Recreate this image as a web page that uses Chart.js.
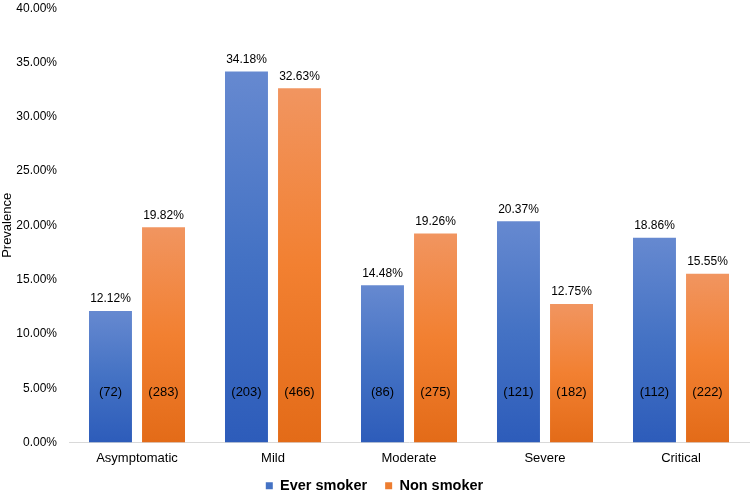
<!DOCTYPE html>
<html>
<head>
<meta charset="utf-8">
<script src="https://cdn.jsdelivr.net/npm/chart.js@4/dist/chart.umd.min.js"></script>
<style>
  html, body { margin: 0; padding: 0; background: #fff; overflow: hidden; }
  #wrap { width: 753px; height: 514px; margin-top: -11px; }
</style>
</head>
<body>
<div id="wrap"><canvas id="grafica"></canvas></div>
<script>
const categorias = ['Asymptomatic', 'Mild', 'Moderate', 'Severe', 'Critical'];
const everSmoker = [12.12, 34.18, 14.48, 20.37, 18.86];
const nonSmoker = [19.82, 32.63, 19.26, 12.75, 15.55];
const everCounts = [72, 203, 86, 121, 112];
const nonCounts = [283, 466, 275, 182, 222];
const yTicks = [0, 5, 10, 15, 20, 25, 30, 35, 40];

const FONT = "'Liberation Sans', Arial, sans-serif";

// gradiente por barra: claro arriba, oscuro abajo
function barGradient(top, mid, bottom) {
  return function (c) {
    const chart = c.chart;
    if (!chart.chartArea) return mid;
    const y = chart.scales.y;
    const g = chart.ctx.createLinearGradient(0, y.getPixelForValue(c.raw), 0, y.getPixelForValue(0));
    g.addColorStop(0, top);
    g.addColorStop(0.5, mid);
    g.addColorStop(1, bottom);
    return g;
  };
}

const etiquetas = {
  id: 'etiquetas',
  afterDatasetsDraw(chart) {
    const ctx = chart.ctx;
    const counts = [everCounts, nonCounts];
    ctx.save();
    ctx.fillStyle = '#000';
    ctx.textAlign = 'center';
    chart.data.datasets.forEach((ds, i) => {
      const meta = chart.getDatasetMeta(i);
      meta.data.forEach((bar, j) => {
        ctx.font = '12px ' + FONT;
        ctx.textBaseline = 'middle';
        ctx.fillText(ds.data[j].toFixed(2) + '%', bar.x, bar.y - 12);
        ctx.font = '13px ' + FONT;
        ctx.fillText('(' + counts[i][j] + ')', bar.x, chart.chartArea.bottom - 50);
      });
    });
    ctx.restore();
  }
};

new Chart(document.getElementById('grafica'), {
  type: 'bar',
  data: {
    labels: categorias,
    datasets: [
      {
        label: 'Ever smoker',
        data: everSmoker,
        backgroundColor: barGradient('#6689d0', '#4472c4', '#2d5cba'),
        categoryPercentage: 0.78,
        barPercentage: 0.81
      },
      {
        label: 'Non smoker',
        data: nonSmoker,
        backgroundColor: barGradient('#f19560', '#f28031', '#e36b18'),
        categoryPercentage: 0.78,
        barPercentage: 0.81
      }
    ]
  },
  options: {
    responsive: true,
    maintainAspectRatio: false,
    animation: false,
    layout: { padding: { left: 0, right: 4, top: 0, bottom: 0 } },
    plugins: {
      legend: {
        position: 'bottom',
        labels: {
          color: '#000',
          font: { family: FONT, size: 14.5, weight: 'bold' },
          boxWidth: 7,
          boxHeight: 7,
          padding: 10,
          generateLabels(chart) {
            const cols = ['#4472c4', '#ed7d31'];
            return chart.data.datasets.map((ds, i) => ({
              // espacio extra tras el primer elemento
              text: i === 0 ? ds.label + '\u00a0\u00a0' : ds.label,
              fillStyle: cols[i],
              strokeStyle: cols[i],
              lineWidth: 0,
              datasetIndex: i,
              fontColor: '#000'
            }));
          }
        }
      },
      tooltip: { enabled: false }
    },
    scales: {
      x: {
        grid: { display: false, drawTicks: false },
        border: { color: '#d9d9d9', width: 1 },
        ticks: { color: '#000', font: { family: FONT, size: 13 }, padding: 8 },
        afterFit(axis) { axis.height = 26; }
      },
      y: {
        min: 0,
        max: 40,
        afterBuildTicks(axis) { axis.ticks = yTicks.map(v => ({ value: v })); },
        afterFit(axis) { axis.width = 69; },
        grid: { display: false, drawTicks: false },
        border: { display: false },
        title: {
          display: true,
          text: 'Prevalence',
          color: '#000',
          font: { family: FONT, size: 13 },
          padding: { top: 0, bottom: 0 }
        },
        ticks: {
          color: '#000',
          font: { family: FONT, size: 12 },
          padding: 12,
          callback: v => v.toFixed(2) + '%'
        }
      }
    }
  },
  plugins: [etiquetas]
});
</script>
</body>
</html>
